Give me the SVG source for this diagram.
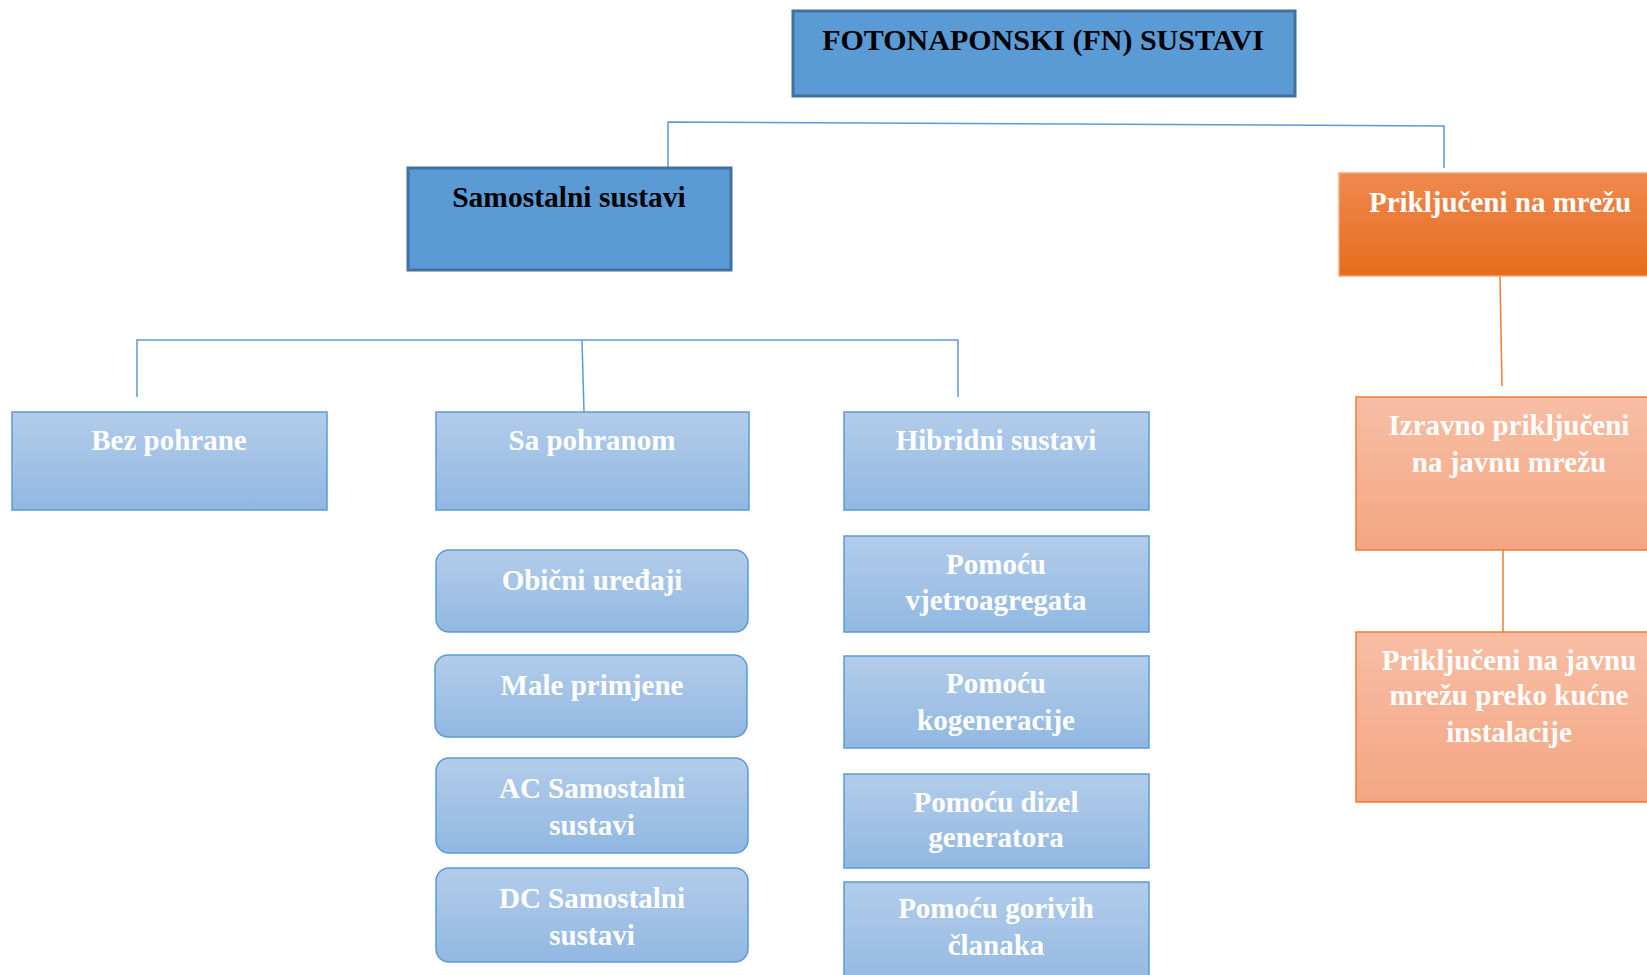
<svg xmlns="http://www.w3.org/2000/svg" width="1647" height="975" viewBox="0 0 1647 975">
<defs>
<linearGradient id="gBlue" x1="0" y1="0" x2="0" y2="1"><stop offset="0" stop-color="#B3CCEA"/><stop offset="1" stop-color="#91B8E2"/></linearGradient>
<linearGradient id="gOrange" x1="0" y1="0" x2="0" y2="1"><stop offset="0" stop-color="#F0894F"/><stop offset="1" stop-color="#E66C1C"/></linearGradient>
<linearGradient id="gPeach" x1="0" y1="0" x2="0" y2="1"><stop offset="0" stop-color="#F7BEA5"/><stop offset="1" stop-color="#F4A682"/></linearGradient>
</defs>
<style>
text{font-family:"Liberation Serif","Times New Roman",serif;font-weight:bold;font-size:29px;text-anchor:middle}
.dark{fill:#5B9BD5;stroke:#41719C;stroke-width:3}
.light{fill:url(#gBlue);stroke:#5B9BD5;stroke-width:1.5}
.peach{fill:url(#gPeach);stroke:#ED7D31;stroke-width:1.5}
.orange{fill:url(#gOrange);stroke:#F4A67A;stroke-width:1.5}
.w{fill:#FFFFFF}
.k{fill:#000000}
.cb{stroke:#5B9BD5;stroke-width:1.5;fill:none}
.co{stroke:#ED7D31;stroke-width:1.5;fill:none}
</style>
<g id="connectors">
<polyline class="cb" points="668,168 668,122 1444,126 1444,168"/>
<polyline class="cb" points="137,397 137,340 958,340 958,397"/>
<line class="cb" x1="582" y1="340" x2="584" y2="412"/>
<line class="co" x1="1500" y1="276" x2="1502" y2="386"/>
<line class="co" x1="1503" y1="550" x2="1503" y2="632"/>
</g>
<g id="root"><rect class="dark" x="793" y="11" width="502" height="85"/><text class="k" x="1043" y="50" style="font-size:30px">FOTONAPONSKI (FN) SUSTAVI</text></g>
<g id="samostalni"><rect class="dark" x="408" y="168" width="323" height="102"/><text class="k" x="569" y="207" style="font-size:29.5px">Samostalni sustavi</text></g>
<g id="prikljuceni"><rect class="orange" x="1339" y="173" width="320" height="103"/><text class="w" x="1500" y="212">Priključeni na mrežu</text></g>
<g id="bez"><rect class="light" x="12" y="412" width="315" height="98"/><text class="w" x="169" y="450">Bez pohrane</text></g>
<g id="sa"><rect class="light" x="436" y="412" width="313" height="98"/><text class="w" x="592" y="450">Sa pohranom</text></g>
<g id="hibridni"><rect class="light" x="844" y="412" width="305" height="98"/><text class="w" x="996" y="450">Hibridni sustavi</text></g>
<g id="obicni"><rect class="light" x="436" y="550" width="312" height="82" rx="13"/><text class="w" x="592" y="590">Obični uređaji</text></g>
<g id="male"><rect class="light" x="435" y="655" width="312" height="82" rx="13"/><text class="w" x="592" y="695">Male primjene</text></g>
<g id="ac"><rect class="light" x="436" y="758" width="312" height="95" rx="13"/><text class="w" x="592" y="798">AC Samostalni</text><text class="w" x="592" y="835">sustavi</text></g>
<g id="dc"><rect class="light" x="436" y="868" width="312" height="94" rx="13"/><text class="w" x="592" y="908">DC Samostalni</text><text class="w" x="592" y="945">sustavi</text></g>
<g id="vjetro"><rect class="light" x="844" y="536" width="305" height="96"/><text class="w" x="996" y="574">Pomoću</text><text class="w" x="996" y="610">vjetroagregata</text></g>
<g id="kogen"><rect class="light" x="844" y="656" width="305" height="92"/><text class="w" x="996" y="693">Pomoću</text><text class="w" x="996" y="730">kogeneracije</text></g>
<g id="dizel"><rect class="light" x="844" y="774" width="305" height="94"/><text class="w" x="996" y="812">Pomoću dizel</text><text class="w" x="996" y="847">generatora</text></g>
<g id="gorivih"><rect class="light" x="844" y="882" width="305" height="110"/><text class="w" x="996" y="918">Pomoću gorivih</text><text class="w" x="996" y="955">članaka</text></g>
<g id="izravno"><rect class="peach" x="1356" y="397" width="310" height="153"/><text class="w" x="1509" y="435">Izravno priključeni</text><text class="w" x="1509" y="472">na javnu mrežu</text></g>
<g id="kucne"><rect class="peach" x="1356" y="632" width="310" height="170"/><text class="w" x="1509" y="670">Priključeni na javnu</text><text class="w" x="1509" y="705">mrežu preko kućne</text><text class="w" x="1509" y="742">instalacije</text></g>
</svg>
